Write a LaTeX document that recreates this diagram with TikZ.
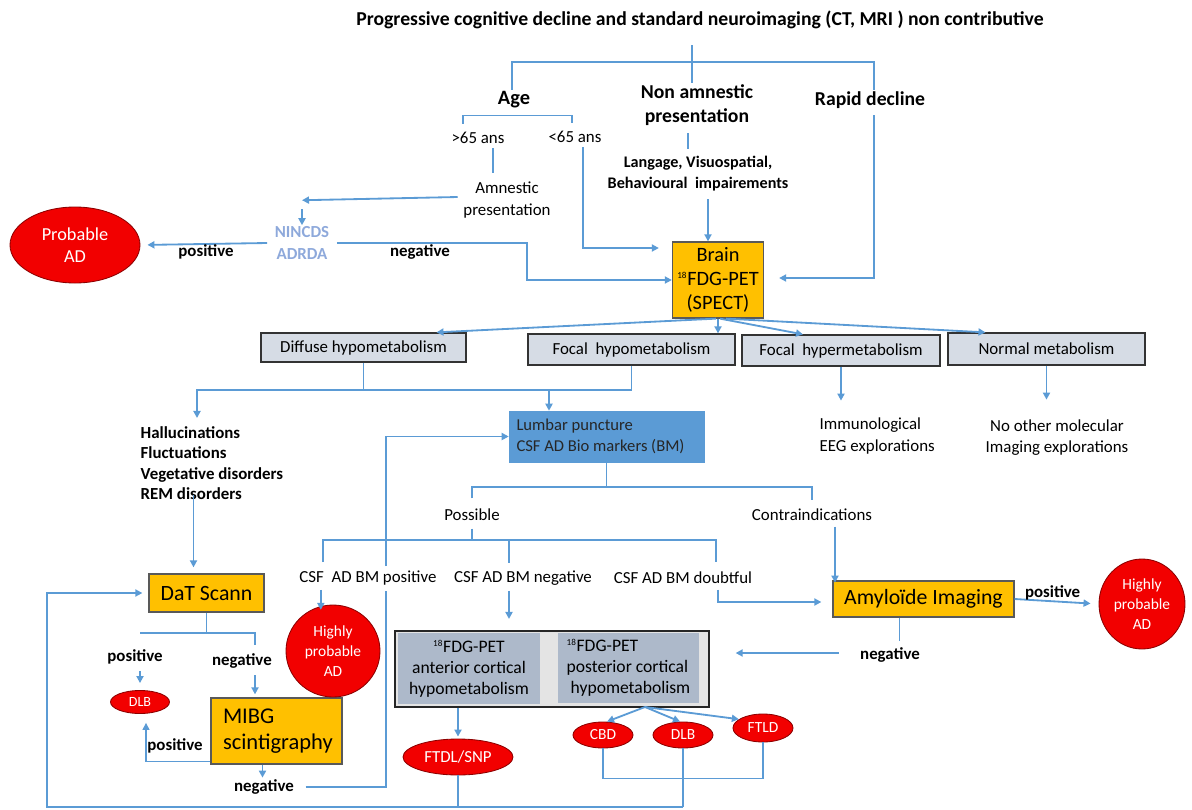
\documentclass[tikz,border=0pt]{standalone}
\usepackage{fontspec}
\setmainfont{Carlito}
\usetikzlibrary{arrows.meta,shapes.geometric,calc}
\definecolor{lnblue}{HTML}{5B9BD5}
\definecolor{gold}{HTML}{FFC000}
\definecolor{paleblue}{HTML}{D6DCE5}
\definecolor{midblue}{HTML}{5B9BD5}
\definecolor{slate}{HTML}{ADB9CA}
\definecolor{lgray}{HTML}{E4E4E4}
\definecolor{nincds}{HTML}{8EA9DB}
\definecolor{adred}{HTML}{F20000}
\newcommand{\pu}{0.025cm}
\newcommand{\fs}[2]{\fontsize{#1}{#2}\selectfont}
\newcommand{\iso}{\textsuperscript{\fs{6.5}{7}18}}
\tikzset{
  link/.style={draw=lnblue, line width=1.3pt},
  thinlink/.style={draw=lnblue, line width=0.9pt},
  arr/.style={link, -{Triangle[length=5pt,width=5pt]}},
  lbl/.style={font=\fs{12}{15}, align=center, inner sep=1pt},
  blbl/.style={lbl, font=\bfseries\fs{12}{15}},
  metabox/.style={draw=black!80, fill=paleblue, line width=0.9pt, font=\fs{12}{14}, inner sep=0pt},
  goldbox/.style={draw=black!65, fill=gold, line width=0.9pt, inner sep=0pt},
  diag/.style={ellipse, draw=red!55!black, fill=adred, text=white, inner sep=0pt, align=center, line width=0.6pt},
}

\begin{document}
\begin{tikzpicture}[x=0.025cm,y=-0.025cm]
\useasboundingbox (0,0) rectangle (1192,810);

% top of the chart
\node[blbl, font=\bfseries\fs{14}{16}] (title) at (700,20) {Progressive cognitive decline and standard neuroimaging (CT, MRI ) non contributive};
\coordinate (topsplit) at (692,62);
\node[blbl, font=\bfseries\fs{14.5}{16}] (age) at (514,100) {Age};
\node[blbl, font=\bfseries\fs{14}{17}] (nonamn) at (697,105) {Non amnestic\\presentation};
\node[blbl, font=\bfseries\fs{14}{16}] (rapid) at (870,100) {Rapid decline};
\draw[link] (topsplit) -- ++(0,-17);
\draw[link] ($(age.north)+(-2,0)$) |- (topsplit) -| ($(rapid.north)+(4,0)$);
\draw[link] (topsplit) -- (topsplit |- nonamn.north);

\node[lbl] (gt) at (478,138) {>65 ans};
\node[lbl] (lt) at (575,137) {<65 ans};
\draw[link] ($(gt.north)+(-15,-7)$) |- ($(lt.north)+(-3,-14)$) -- ($(lt.north)+(-3,-7)$);
\node[lbl] (amnes) at (507,200) {Amnestic\\presentation};
\draw[thinlink] (gt.south) ++(15,3) -- ++(0,25);

\node[blbl, text=nincds] (nincds) at (302,243) {NINCDS\\ADRDA};
\node[diag, minimum width=130*\pu, minimum height=76*\pu, font=\fs{13}{16}] (probad) at (75,245) {Probable\\AD};
\draw[arr] ($(amnes.west)+(-4,-3)$) -- ($(nincds.north)+(0,-25)$);
\draw[arr] ($(nincds.north)+(0,-16)$) -- (nincds.north);
\draw[arr, shorten >=7*\pu] ($(nincds.west)+(-6,0)$) -- (probad.east);
\node[blbl] (pos1) at (206,252) {positive};

\node[goldbox, minimum width=91*\pu, minimum height=76*\pu, font=\fs{14.5}{17}, align=center] (brain) at (718,280) {Brain\\\iso FDG-PET\\(SPECT)};
\coordinate (bendneg) at (527,260);
\draw[arr] ($(nincds.east)+(6,0)$) -| (bendneg) |- (brain.west);
\node[blbl] (neg1) at (420,252) {negative};
\draw[arr] (lt.south) ++(8,3) |- ($(brain.west)+(-13,-32)$);

\node[blbl, font=\bfseries\fs{11.5}{15}] (lang) at (698,174) {Langage, Visuospatial,\\Behavioural\ \ impairements};
\draw[thinlink] (nonamn.south) ++(-9,6) -- ++(0,16);
\draw[arr] ($(brain.north)+(-10,-42)$) -- ($(brain.north)+(-10,0)$);
\draw[arr] (rapid.south) ++(4,5) |- ($(brain.east)+(15,-2)$);

% metabolism row
\node[metabox, minimum width=205*\pu, minimum height=29*\pu] (diffuse) at (363.5,347.5) {Diffuse hypometabolism};
\node[metabox, minimum width=207*\pu, minimum height=31*\pu] (focalhypo) at (631.5,349.5) {Focal\ \ hypometabolism};
\node[metabox, minimum width=198*\pu, minimum height=31*\pu] (focalhyper) at (841,350.5) {Focal\ \ hypermetabolism};
\node[metabox, minimum width=197*\pu, minimum height=32*\pu] (normal) at (1046.5,349) {Normal metabolism};
\draw[arr] ($(brain.south)+(-2,0)$) -- ($(diffuse.north)+(73,0)$);
\draw[arr] (brain.south) -- (brain.south |- focalhypo.north);
\draw[arr] ($(brain.south)+(2,0)$) -- ($(focalhyper.north)+(-38,0)$);
\draw[arr] ($(brain.south)+(8,0)$) -- ($(normal.north)+(-61,0)$);

\node[lbl, align=left, anchor=west] (immuno) at (818,436) {Immunological\\EEG explorations};
\node[lbl] (noother) at (1057,438) {No other molecular\\Imaging explorations};
\draw[arr] (focalhyper.south) -- ++(0,34);
\draw[arr] (normal.south) -- ++(0,34);

% lumbar puncture
\node[blbl, align=left, anchor=north west, font=\bfseries\fs{12}{14.5}] (sympt) at (139,425) {Hallucinations\\Fluctuations\\Vegetative disorders\\REM disorders};
\node[fill=midblue, draw=midblue, text=black!85, font=\fs{11.8}{15}, align=flush left, text width=180*\pu, inner xsep=7.5*\pu, minimum height=51*\pu] (lumbar) at (606.5,436.5) {Lumbar puncture\\CSF AD Bio markers (BM)};
\coordinate (symtip) at (197,418);
\coordinate (mrg) at (549,390);
\draw[thinlink] (diffuse.south) -- ++(0,26);
\draw[arr] (focalhypo.south) -- ++(0,24.5) -| (symtip);
\draw[arr] (mrg) -- (mrg |- lumbar.north);

\node[lbl] (possible) at (472,515) {Possible};
\node[lbl] (contra) at (812,515) {Contraindications};
\draw[link] (lumbar.south) -- ++(0,25);
\draw[link] ($(possible.north)+(0,-9)$) |- ($(contra.north)+(0,-20)$) -- ($(contra.north)+(0,-7)$);
\draw[thinlink] (possible.south) ++(0,6) -- ++(0,11);

\node[lbl] (csfpos) at (368,578) {CSF\ \ AD BM positive};
\node[lbl] (csfneg) at (523,578) {CSF AD BM negative};
\node[lbl] (csfdbt) at (683,578) {CSF AD BM doubtful};
\draw[link] (323,562) -- (323,540) -- (716,540) -- (716,562);
\draw[link] (509,540) -- (509,563);

% amyloid imaging
\node[goldbox, minimum width=181*\pu, minimum height=36*\pu, font=\fs{15.5}{17}] (amyloid) at (923.5,599) {Amyloïde Imaging};
\node[diag, minimum width=86*\pu, minimum height=90*\pu, font=\fs{11}{14}] (hpad2) at (1142,604) {Highly\\probable\\AD};
\draw[arr] ($(contra.south)+(23,4)$) -- ($(contra.south)+(23,60)$);
\draw[arr, shorten >=11*\pu] ($(csfdbt.south east)+(-36,4)$) |- ($(amyloid.west)+(0,3)$);
\draw[arr, shorten >=8*\pu] (amyloid.east) -- node[blbl, above=-1pt, xshift=-4*\pu] (pos4) {positive} (hpad2.west);
\node[blbl] (neg4) at (890,655) {negative};
\draw[thinlink] ($(amyloid.south)+(-24,0)$) -- ++(0,23);

% FDG-PET anterior / posterior
\node[draw=black!85, fill=lgray, line width=0.9pt, minimum width=314*\pu, minimum height=76*\pu, inner sep=0pt] (fdg) at (552,669) {};
\node[fill=slate, minimum width=142*\pu, minimum height=71*\pu, inner sep=0pt, font=\fs{12.5}{15}, align=center] (fdgant) at (469,668.5) {\iso FDG-PET\\anterior cortical\\hypometabolism};
\node[fill=slate, minimum width=141*\pu, minimum height=70*\pu, inner sep=0pt, font=\fs{12.5}{15}, align=left] (fdgpost) at (628.5,668) {\iso FDG-PET\\posterior cortical\\\ hypometabolism};
\draw[arr] ($(csfneg.south)+(-14,4)$) -- ++(0,28);
\draw[arr] ($(neg4.west)+(-20,-2)$) -- ($(fdg.east)+(26,-16)$);

\node[diag, minimum width=110*\pu, minimum height=36*\pu, font=\fs{12}{14}] (ftdl) at (458,757) {FTDL/SNP};
\node[diag, minimum width=60*\pu, minimum height=26*\pu, font=\fs{11}{13}] (cbd) at (603,735) {CBD};
\node[diag, minimum width=60*\pu, minimum height=26*\pu, font=\fs{11}{13}] (dlbb) at (683,735) {DLB};
\node[diag, minimum width=60*\pu, minimum height=28*\pu, font=\fs{11}{13}] (ftld) at (763,728) {FTLD};
\draw[arr, shorten >=2*\pu] (ftdl.north |- fdg.south) -- (ftdl.north);
\coordinate (fork) at (645,707);
\draw[arr] (fork) -- ($(cbd.north)+(4,0)$);
\draw[arr] (fork) -- ($(dlbb.north)+(-3,0)$);
\draw[arr] (fork) -- (ftld.160);
\draw[thinlink] (cbd.south) -- ++(0,30) -| (ftld.south);

% DaT scan branch
\node[goldbox, minimum width=115*\pu, minimum height=38*\pu, font=\fs{15.5}{17}] (dat) at (206.5,593) {DaT Scann};
\draw[arr] ($(dat.north)+(-13,-78)$) -- ($(dat.north)+(-13,-6)$);
\node[diag, minimum width=59*\pu, minimum height=23*\pu, font=\fs{10}{11}] (dlba) at (140,702) {DLB};
\node[goldbox, minimum width=131*\pu, minimum height=66*\pu, font=\fs{16}{19}, align=flush left, text width=107*\pu, inner xsep=12*\pu] (mibg) at (276.5,731) {MIBG\\scintigraphy};
\node[diag, minimum width=94*\pu, minimum height=92*\pu, font=\fs{11}{14}] (hpad1) at (333,651) {Highly\\probable\\AD};
\draw[link] (dat.south) -- ++(0,21);
\draw[thinlink] (140,633) -- (255,633) -- (255,645);
\node[blbl] (pos2) at (135,657) {positive};
\node[blbl] (neg2) at (242,661) {negative};
\node[blbl] (pos3) at (175,746) {positive};
\node[blbl] (neg3) at (264,787) {negative};
\draw[arr] ($(pos2.south)+(5,5)$) -- ($(dlba.north)+(0,-7)$);
\draw[arr] ($(neg2.south)+(13,5)$) -- ($(mibg.north)+(-21.5,-3)$);
\draw[thinlink, -{Triangle[length=5pt,width=5pt]}] ($(mibg.south west)+(0,-3)$) -| ($(dlba.south)+(6,9)$);
\draw[arr] ($(mibg.south)+(-14,0)$) -- ++(0,13);
\draw[arr] ($(csfpos.south west)+(23,3)$) -- ++(0,20);

% loop back to the lumbar puncture
\draw[link] ($(neg3.east)+(10,0)$) -| ($(csfpos.south east)+(-52,4)$);
\draw[arr] ($(csfpos.north east)+(-52,-3)$) |- (lumbar.west);

% bottom return line
\coordinate (botL) at (47,807);
\draw[link] (ftdl.south) -- (ftdl.south |- botL);
\draw[arr, shorten >=6*\pu] (dlbb.south |- botL) -- (botL) |- (dat.west);
\draw[link] (dlbb.south) -- (dlbb.south |- botL);

\end{tikzpicture}
\end{document}
